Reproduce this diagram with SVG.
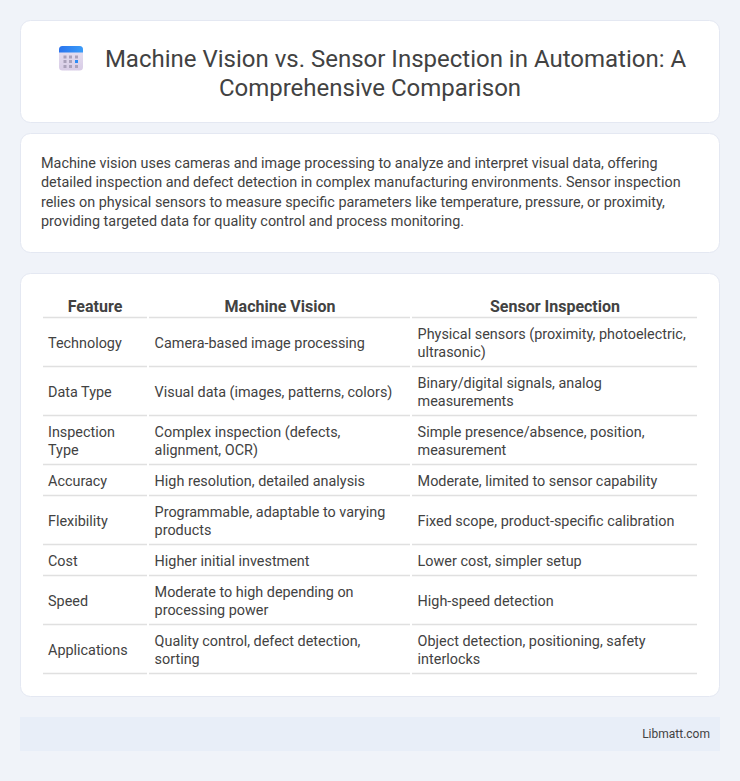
<svg xmlns="http://www.w3.org/2000/svg" width="740" height="781" viewBox="0 0 740 781">
<defs><linearGradient id="body" x1="0" y1="0" x2="0" y2="1"><stop offset="0" stop-color="#e8e2f2"/><stop offset="1" stop-color="#d8cce6"/></linearGradient>
<linearGradient id="top" x1="0" y1="0" x2="1" y2="0"><stop offset="0" stop-color="#2b74ee"/><stop offset="1" stop-color="#3a9cf8"/></linearGradient></defs>
<style>
text{font-family:Roboto,"Liberation Sans",sans-serif;fill:#424242}
.t{font-size:24px;text-anchor:middle;fill:#424242}
.p{font-size:14.4px}
.h{font-size:16px;font-weight:700;text-anchor:middle}
.c{font-size:14.4px}
.card{fill:#fff;stroke:#e4e8f2;stroke-width:1}
.r{stroke:#e0e0e0;stroke-width:1.5;fill:none}
</style>
<rect width="740" height="781" fill="#f0f3f9"/>
<g id="header">
<rect class="card" x="20.500" y="20.500" width="699" height="102" rx="10"/>
<rect x="59" y="46" width="24" height="24.500" rx="3.500" fill="url(#body)"/>
<path d="M59 52.500V49.500a3.500 3.500 0 0 1 3.500-3.500h17a3.500 3.500 0 0 1 3.500 3.500V52.500z" fill="url(#top)"/>
<g fill="#aba2bb"><rect x="63.500" y="55.500" width="3" height="3"/><rect x="69" y="55.500" width="3" height="3"/><rect x="75" y="55.500" width="3" height="3"/><rect x="63.500" y="60" width="3" height="3"/><rect x="69" y="60" width="3" height="3"/><rect x="63.500" y="65" width="3" height="3"/><rect x="69" y="65" width="3" height="3"/><rect x="75" y="65" width="3" height="3"/></g>
<rect x="75" y="60" width="3" height="3" fill="#2f8cf5"/>
<text class="t" x="395.500" y="67">Machine Vision vs. Sensor Inspection in Automation: A</text>
<text class="t" x="370" y="96">Comprehensive Comparison</text>
</g>
<g id="intro">
<rect class="card" x="20.500" y="133.500" width="699" height="119" rx="10"/>
<text class="p" x="41" y="168">Machine vision uses cameras and image processing to analyze and interpret visual data, offering</text>
<text class="p" x="41" y="187">detailed inspection and defect detection in complex manufacturing environments. Sensor inspection</text>
<text class="p" x="41" y="207">relies on physical sensors to measure specific parameters like temperature, pressure, or proximity,</text>
<text class="p" x="41" y="226">providing targeted data for quality control and process monitoring.</text>
</g>
<g id="table">
<rect class="card" x="20.500" y="273.500" width="699" height="423" rx="10"/>
<text class="h" x="95" y="312">Feature</text><text class="h" x="280" y="312">Machine Vision</text><text class="h" x="555" y="312">Sensor Inspection</text>
<g class="r">
<path d="M43 317.500H147M149 317.500H410M412 317.500H697"/>
<path d="M43 366.500H147M149 366.500H410M412 366.500H697"/>
<path d="M43 415.500H147M149 415.500H410M412 415.500H697"/>
<path d="M43 464.500H147M149 464.500H410M412 464.500H697"/>
<path d="M43 495.500H147M149 495.500H410M412 495.500H697"/>
<path d="M43 544.500H147M149 544.500H410M412 544.500H697"/>
<path d="M43 575.500H147M149 575.500H410M412 575.500H697"/>
<path d="M43 624.500H147M149 624.500H410M412 624.500H697"/>
<path d="M43 673.500H147M149 673.500H410M412 673.500H697"/>
</g>
<g class="c">
<text x="48" y="348">Technology</text><text x="154.600" y="348">Camera-based image processing</text><text x="417.600" y="339">Physical sensors (proximity, photoelectric,</text><text x="417.600" y="357">ultrasonic)</text>
<text x="48" y="397">Data Type</text><text x="154.600" y="397">Visual data (images, patterns, colors)</text><text x="417.600" y="388">Binary/digital signals, analog</text><text x="417.600" y="406">measurements</text>
<text x="48" y="437">Inspection</text><text x="48" y="455">Type</text><text x="154.600" y="437">Complex inspection (defects,</text><text x="154.600" y="455">alignment, OCR)</text><text x="417.600" y="437">Simple presence/absence, position,</text><text x="417.600" y="455">measurement</text>
<text x="48" y="486">Accuracy</text><text x="154.600" y="486">High resolution, detailed analysis</text><text x="417.600" y="486">Moderate, limited to sensor capability</text>
<text x="48" y="526">Flexibility</text><text x="154.600" y="517">Programmable, adaptable to varying</text><text x="154.600" y="535">products</text><text x="417.600" y="526">Fixed scope, product-specific calibration</text>
<text x="48" y="566">Cost</text><text x="154.600" y="566">Higher initial investment</text><text x="417.600" y="566">Lower cost, simpler setup</text>
<text x="48" y="606">Speed</text><text x="154.600" y="597">Moderate to high depending on</text><text x="154.600" y="615">processing power</text><text x="417.600" y="606">High-speed detection</text>
<text x="48" y="655">Applications</text><text x="154.600" y="646">Quality control, defect detection,</text><text x="154.600" y="664">sorting</text><text x="417.600" y="646">Object detection, positioning, safety</text><text x="417.600" y="664">interlocks</text>
</g>
</g>
<g id="footer">
<rect x="20" y="717" width="700" height="34" fill="#e8eef8"/>
<text x="710" y="738" font-size="12" text-anchor="end">Libmatt.com</text>
</g>
</svg>
